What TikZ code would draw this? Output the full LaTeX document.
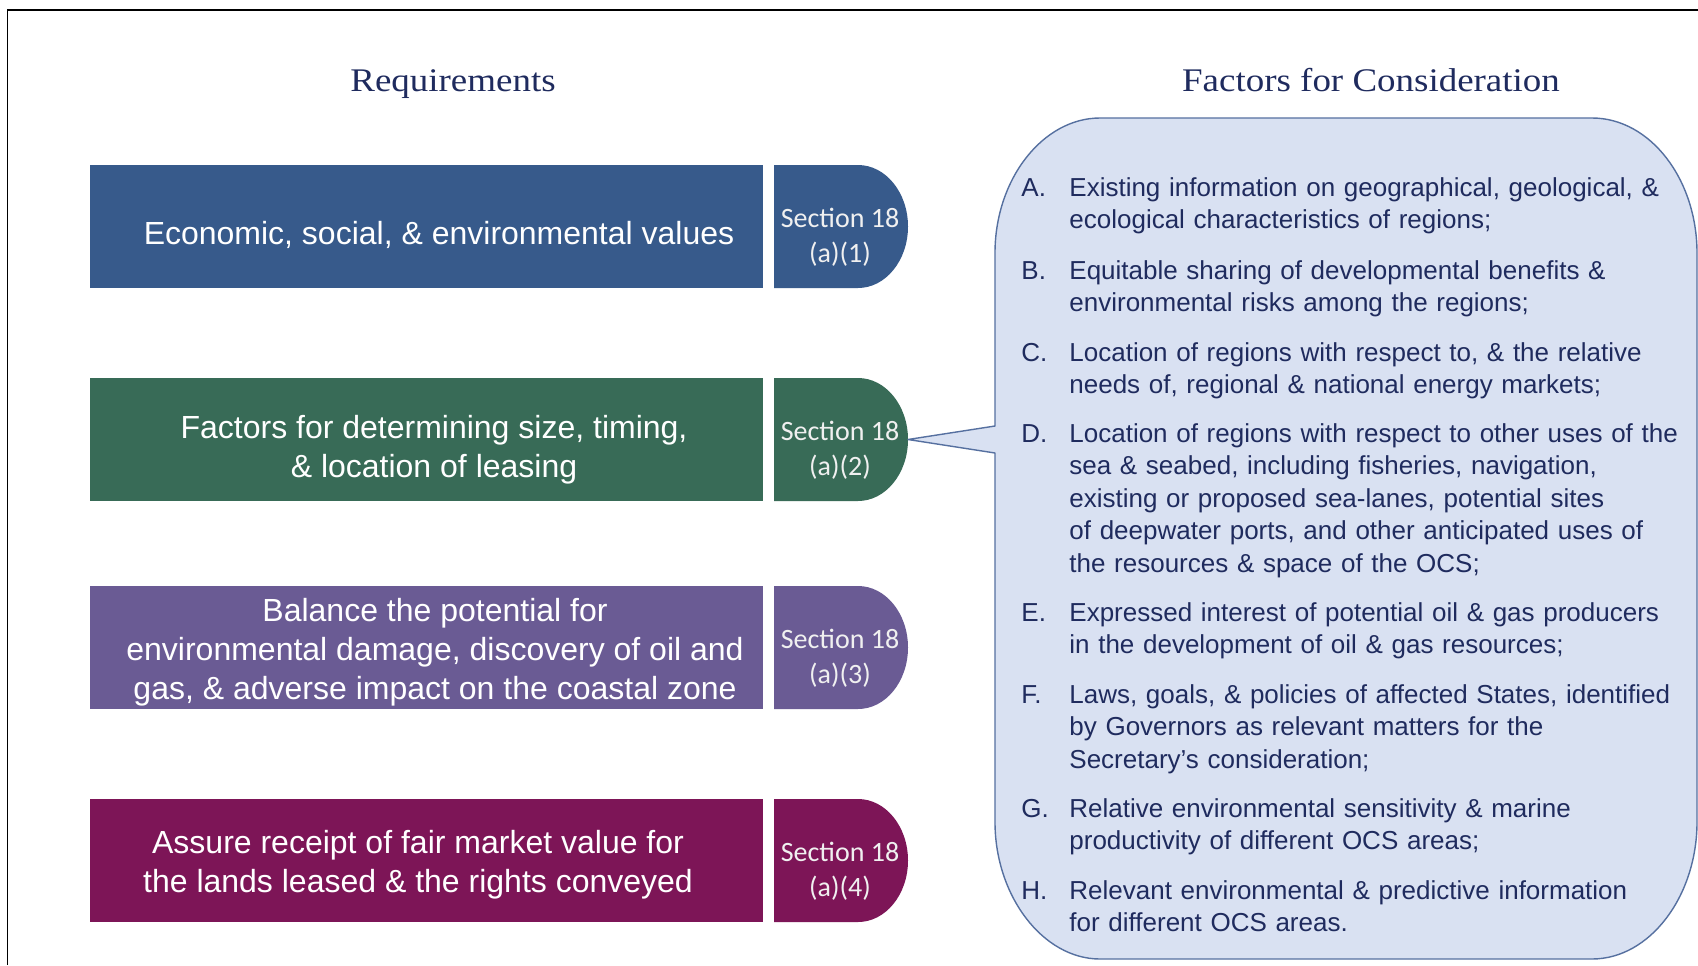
\documentclass[tikz,border=0pt]{standalone}
\usepackage{fontspec}
\setmainfont{Liberation Sans}
\newfontfamily\titlefont[FakeStretch=1.12]{Liberation Serif}
\newfontfamily\tabfont{Carlito}
\definecolor{cA}{HTML}{375A8B}
\definecolor{cB}{HTML}{386B57}
\definecolor{cC}{HTML}{6A5B94}
\definecolor{cD}{HTML}{7D1557}
\definecolor{fbfill}{HTML}{D9E1F2}
\definecolor{fbline}{HTML}{5670A0}
\definecolor{navy}{HTML}{1F2B5E}
\tikzset{
  title/.style={font=\titlefont\fontsize{16.5}{20}\selectfont, text=navy, inner sep=0pt, anchor=base},
  reqtext/.style={font=\fontsize{16}{19.5}\selectfont, text=white, align=center, inner sep=0pt},
  tabtext/.style={font=\tabfont\fontsize{14}{17.5}\selectfont, text=white!94!black, align=center, inner sep=0pt},
  itemletter/.style={font=\fontsize{13}{16.25}\selectfont, text=navy, inner sep=0pt, anchor=base west},
  itemtext/.style={font=\fontsize{13}{16.25}\selectfont, text=navy, inner sep=0pt, anchor=base west, text width=312pt, align=left},
  factorbox/.style={fill=fbfill, draw=fbline, line width=0.7pt, line join=round}
}
\begin{document}
\begin{tikzpicture}[x=0.5pt,y=-0.5pt]
\useasboundingbox (0,0) rectangle (1698,965);
\fill[white] (0,0) rectangle (1698,965);
\draw[black, line width=0.8pt] (7.6,965) -- (7.6,10) -- (1698,10);

% requirement bars and section tabs
\foreach \y/\c/\n in {165/cA/1, 378/cB/2, 586/cC/3, 799/cD/4}{
  \fill[\c] (90,\y) rectangle (763,{\y+123});
  \fill[\c] (774,\y) -- (858,\y) .. controls (885.6,\y) and (908,{\y+27.5}) .. (908,{\y+61.5})
     .. controls (908,{\y+95.5}) and (885.6,{\y+123}) .. (858,{\y+123}) -- (774,{\y+123}) -- cycle;
  \coordinate (tip\n) at (908,{\y+61.5});
}

% factors callout box
\filldraw[factorbox] (995,426) -- (tip2) -- (995,453) -- (995,822)
  .. controls (995,896) and (1043,959) .. (1100,959) -- (1592,959)
  .. controls (1650,959) and (1697,896) .. (1697,822) -- (1697,253)
  .. controls (1697,179) and (1650,118) .. (1592,118) -- (1100,118)
  .. controls (1043,118) and (995,179) .. (995,253) -- cycle;

% titles
\node[title] (h1) at (453,91) {Requirements};
\node[title] (h2) at (1371,91) {Factors for Consideration};

% requirement texts
\node[reqtext] (r1) at (439,235) {Economic, social, \& environmental values};
\node[reqtext] (r2) at (434,450) {Factors for determining size, timing,\\ \& location of leasing};
\node[reqtext] (r3) at (435,652) {Balance the potential for\\ environmental damage, discovery of oil and\\ gas, \& adverse impact on the coastal zone};
\node[reqtext] (r4) at (418,865) {Assure receipt of fair market value for\\ the lands leased \& the rights conveyed};

% section tabs
\node[tabtext] (s1) at (840,237) {Section 18\\(a)(1)};
\node[tabtext] (s2) at (840,450) {Section 18\\(a)(2)};
\node[tabtext] (s3) at (840,658) {Section 18\\(a)(3)};
\node[tabtext] (s4) at (840,871) {Section 18\\(a)(4)};

% factor items
\node[itemletter] (lA) at (1021,196) {A.};
\node[itemtext] (tA) at (1069,196) {Existing information on geographical, geological, \&\\ ecological characteristics of regions;};
\node[itemletter] (lB) at (1021,279) {B.};
\node[itemtext] (tB) at (1069,279) {Equitable sharing of developmental benefits \&\\ environmental risks among the regions;};
\node[itemletter] (lC) at (1021,361) {C.};
\node[itemtext] (tC) at (1069,361) {Location of regions with respect to, \& the relative\\ needs of, regional \& national energy markets;};
\node[itemletter] (lD) at (1021,442) {D.};
\node[itemtext] (tD) at (1069,442) {Location of regions with respect to other uses of the\\ sea \& seabed, including fisheries, navigation,\\ existing or proposed sea-lanes, potential sites\\ of deepwater ports, and other anticipated uses of\\ the resources \& space of the OCS;};
\node[itemletter] (lE) at (1021,621) {E.};
\node[itemtext] (tE) at (1069,621) {Expressed interest of potential oil \& gas producers\\ in the development of oil \& gas resources;};
\node[itemletter] (lF) at (1021,703) {F.};
\node[itemtext] (tF) at (1069,703) {Laws, goals, \& policies of affected States, identified\\ by Governors as relevant matters for the\\ Secretary’s consideration;};
\node[itemletter] (lG) at (1021,817) {G.};
\node[itemtext] (tG) at (1069,817) {Relative environmental sensitivity \& marine\\ productivity of different OCS areas;};
\node[itemletter] (lH) at (1021,899) {H.};
\node[itemtext] (tH) at (1069,899) {Relevant environmental \& predictive information\\ for different OCS areas.};
\end{tikzpicture}
\end{document}
